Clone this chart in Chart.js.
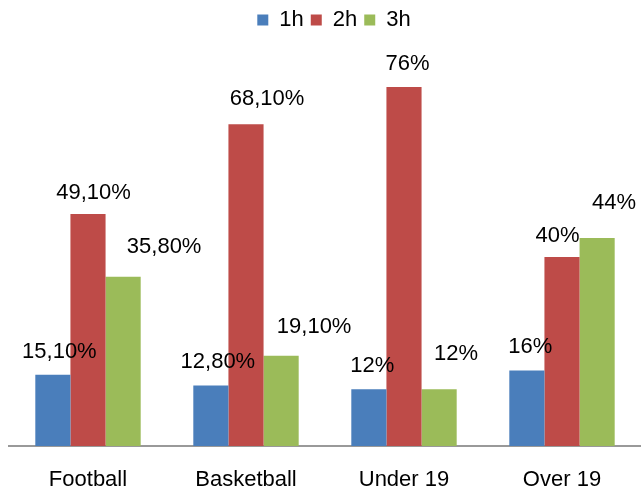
<!DOCTYPE html>
<html>
<head>
<meta charset="utf-8">
<script src="https://cdn.jsdelivr.net/npm/chart.js@4/dist/chart.umd.min.js"></script>
<style>
  html, body { margin: 0; padding: 0; background: #fff; }
  canvas { display: block; }
</style>
</head>
<body>
<canvas id="chart-canvas" width="641" height="489"></canvas>
<script>
//------------------------ DATA ----------------------------

const categories = ["Football", "Basketball", "Under 19", "Over 19"];
const seriesNames = ["1h", "2h", "3h"];
const values1h = [15.1, 12.8, 12, 16];
const values2h = [49.1, 68.1, 76, 40];
const values3h = [35.8, 19.1, 12, 44];

// Colours of the three series
const seriesColors = ["#4a7ebb", "#be4b48", "#9bbb59"];

// Hand-placed data label nudges [dx, px above bar top], like in the original
const labelNudges = [
  [[6.5, 23], [7, 24], [3.5, 23.5], [3.5, 23]],
  [[5.5, 21], [21, 25], [3.5, 22.5], [-4.5, 21.5]],
  [[41, 30], [33, 29], [17, 35], [17, 35]],
];

const FONT = "'Liberation Sans', Arial, sans-serif";

function formatPct(v) {
  // Excel style: 15,10% / 12%
  return Number.isInteger(v) ? v + "%" : v.toFixed(2).replace(".", ",") + "%";
}

//------------------------ PLUGINS ----------------------------

// Push the chart area down below the legend, and nudge the legend a bit right
const legendSpace = {
  id: "legendSpace",
  beforeInit(chart) {
    const fit = chart.legend.fit;
    chart.legend.fit = function () {
      fit.bind(chart.legend)();
      this.height = 66;
    };
  },
  afterLayout(chart) {
    chart.legend.left += 9;
    chart.legend.right += 9;
  },
};

// Value labels above each bar
const barLabels = {
  id: "barLabels",
  afterDatasetsDraw(chart) {
    const ctx = chart.ctx;
    ctx.save();
    ctx.font = "22px " + FONT;
    ctx.fillStyle = "#000";
    ctx.textAlign = "center";
    ctx.textBaseline = "middle";
    chart.data.datasets.forEach((ds, i) => {
      const meta = chart.getDatasetMeta(i);
      meta.data.forEach((bar, j) => {
        const n = labelNudges[i][j];
        ctx.fillText(formatPct(ds.data[j]), bar.x + n[0], bar.y - n[1]);
      });
    });
    ctx.restore();
  },
};

//------------------------ CHART ----------------------------

const allSeries = [values1h, values2h, values3h];

const ctx = document.getElementById("chart-canvas").getContext("2d");
const myChart = new Chart(ctx, {
  type: "bar",
  data: {
    labels: categories,
    datasets: allSeries.map((vals, i) => ({
      label: seriesNames[i],
      data: vals,
      backgroundColor: seriesColors[i],
      borderWidth: 0,
      categoryPercentage: 0.667,
      barPercentage: 1,
    })),
  },
  options: {
    responsive: false,
    animation: false,
    layout: {
      padding: { left: 9, right: 0, top: 2, bottom: -25 },
    },
    plugins: {
      legend: {
        display: true,
        position: "top",
        labels: {
          boxWidth: 11,
          boxHeight: 11,
          padding: 7,
          color: "#000",
          font: { family: FONT, size: 22 },
        },
      },
      tooltip: { enabled: false },
    },
    scales: {
      x: {
        grid: { display: false, drawTicks: false },
        border: { display: true, color: "#999", width: 2 },
        ticks: {
          padding: 23,
          color: "#000",
          font: { family: FONT, size: 22, lineHeight: 1 },
        },
      },
      y: {
        display: false,
        min: 0,
        max: 80,
      },
    },
  },
  plugins: [legendSpace, barLabels],
});
</script>
</body>
</html>
